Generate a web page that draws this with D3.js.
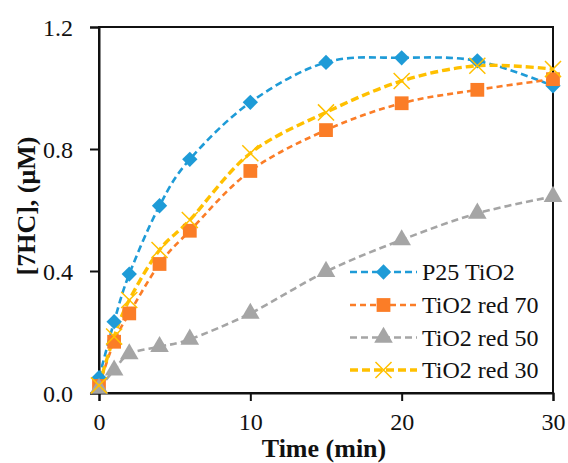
<!DOCTYPE html>
<html><head><meta charset="utf-8">
<script src="https://cdn.jsdelivr.net/npm/d3@7"></script>
<style>
html,body{margin:0;padding:0;background:#fff;}
svg{display:block;}
</style></head>
<body>
<svg id="c" width="568" height="463"></svg>
<script>
const times = [0, 1, 2, 4, 6, 10, 15, 20, 25, 30];
const seriesNames = ["P25 TiO2", "TiO2 red 70", "TiO2 red 50", "TiO2 red 30"];
const p25 = [0.05, 0.234, 0.39, 0.614, 0.766, 0.953, 1.084, 1.099, 1.089, 1.007];
const red70 = [0.023, 0.168, 0.261, 0.423, 0.532, 0.728, 0.862, 0.95, 0.994, 1.029];
const red50 = [0.015, 0.075, 0.128, 0.152, 0.176, 0.261, 0.398, 0.502, 0.589, 0.644];
const red30 = [0.025, 0.185, 0.305, 0.469, 0.567, 0.786, 0.92, 1.023, 1.073, 1.062];
const xTicks = [0, 10, 20, 30];
const yTicks = [0.0, 0.4, 0.8, 1.2];

const FONT = "'Liberation Serif', 'Times New Roman', serif";
const colors = ["#1E9BD7", "#FB7D27", "#A5A5A5", "#FFC000"];
const symbols = [d3.symbolDiamond2, d3.symbolSquare, d3.symbolTriangle, d3.symbolX];
const valuesList = [p25, red70, red50, red30];

const svg = d3.select("#c");
const L = 99, R = 553, T = 27, B = 393;
const x = d3.scaleLinear().domain([0, 30]).range([L, R]);
const y = d3.scaleLinear().domain([0, 1.2]).range([B, T]);

// frame
svg.append("rect").attr("x", L).attr("y", T).attr("width", R - L).attr("height", B - T)
  .attr("fill", "none").attr("stroke", "#111").attr("stroke-width", 2);

// axes
const yAxis = svg.append("g").attr("transform", `translate(${L},0)`)
  .call(d3.axisLeft(y).tickValues(yTicks).tickFormat(d3.format(".1f")).tickSize(9).tickPadding(17));
const xAxis = svg.append("g").attr("transform", `translate(0,${B})`)
  .call(d3.axisBottom(x).tickValues(xTicks).tickFormat(d3.format("d")).tickSize(8).tickPadding(12));
[yAxis, xAxis].forEach(a => {
  a.attr("font-family", FONT).attr("font-size", 24);
  a.select(".domain").attr("stroke", "#111").attr("stroke-width", 2);
  a.selectAll(".tick line").attr("stroke", "#111").attr("stroke-width", 2);
  a.selectAll(".tick text").style("font-family", FONT).style("font-size", "24px").attr("fill", "#111");
});
yAxis.selectAll(".tick text").attr("dy", "0.34em");

// series
const line = d3.line().x((d, i) => x(times[i])).y(d => y(d)).curve(d3.curveCardinal.tension(0));
const sw = [2.6, 2.6, 2.6, 3.4];
const dash = ["7,4", "6,4", "7,4", "8,4"];
const sizes = [150, 190, 150, 170];

valuesList.forEach((vals, k) => {
  svg.append("path").attr("d", line(vals)).attr("fill", "none")
    .attr("stroke", colors[k]).attr("stroke-width", sw[k]).attr("stroke-dasharray", dash[k]);
});
valuesList.forEach((vals, k) => {
  const sym = d3.symbol().type(symbols[k]).size(sizes[k]);
  svg.append("g").selectAll("path").data(vals).join("path")
    .attr("transform", (d, i) => `translate(${x(times[i])},${y(d)})`)
    .attr("d", sym)
    .attr("fill", k === 3 ? "none" : colors[k])
    .attr("stroke", colors[k])
    .attr("stroke-width", k === 3 ? 1.5 : 0);
});

// legend
const legY = [272, 305, 337.5, 370];
seriesNames.forEach((name, k) => {
  const g = svg.append("g").attr("transform", `translate(0,${legY[k]})`);
  g.append("line").attr("x1", 350).attr("x2", 417).attr("y1", 0).attr("y2", 0)
    .attr("stroke", colors[k]).attr("stroke-width", sw[k]).attr("stroke-dasharray", dash[k]);
  g.append("path").attr("transform", "translate(383.5,0)")
    .attr("d", d3.symbol().type(symbols[k]).size(sizes[k]))
    .attr("fill", k === 3 ? "none" : colors[k]).attr("stroke", colors[k])
    .attr("stroke-width", k === 3 ? 1.5 : 0);
  g.append("text").attr("x", 422).attr("y", 0).attr("dy", "0.35em")
    .style("font-family", FONT).style("font-size", "24px").attr("fill", "#111").text(name);
});

// axis titles
svg.append("text").attr("x", 324).attr("y", 457).attr("text-anchor", "middle")
  .style("font-family", FONT).style("font-size", "26px").style("font-weight", "bold").attr("fill", "#111")
  .text("Time (min)");
svg.append("text").attr("transform", "translate(35,206) rotate(-90)").attr("text-anchor", "middle")
  .style("font-family", FONT).style("font-size", "26px").style("font-weight", "bold").attr("fill", "#111")
  .text("[7HC], (μM)");
</script>
</body></html>
